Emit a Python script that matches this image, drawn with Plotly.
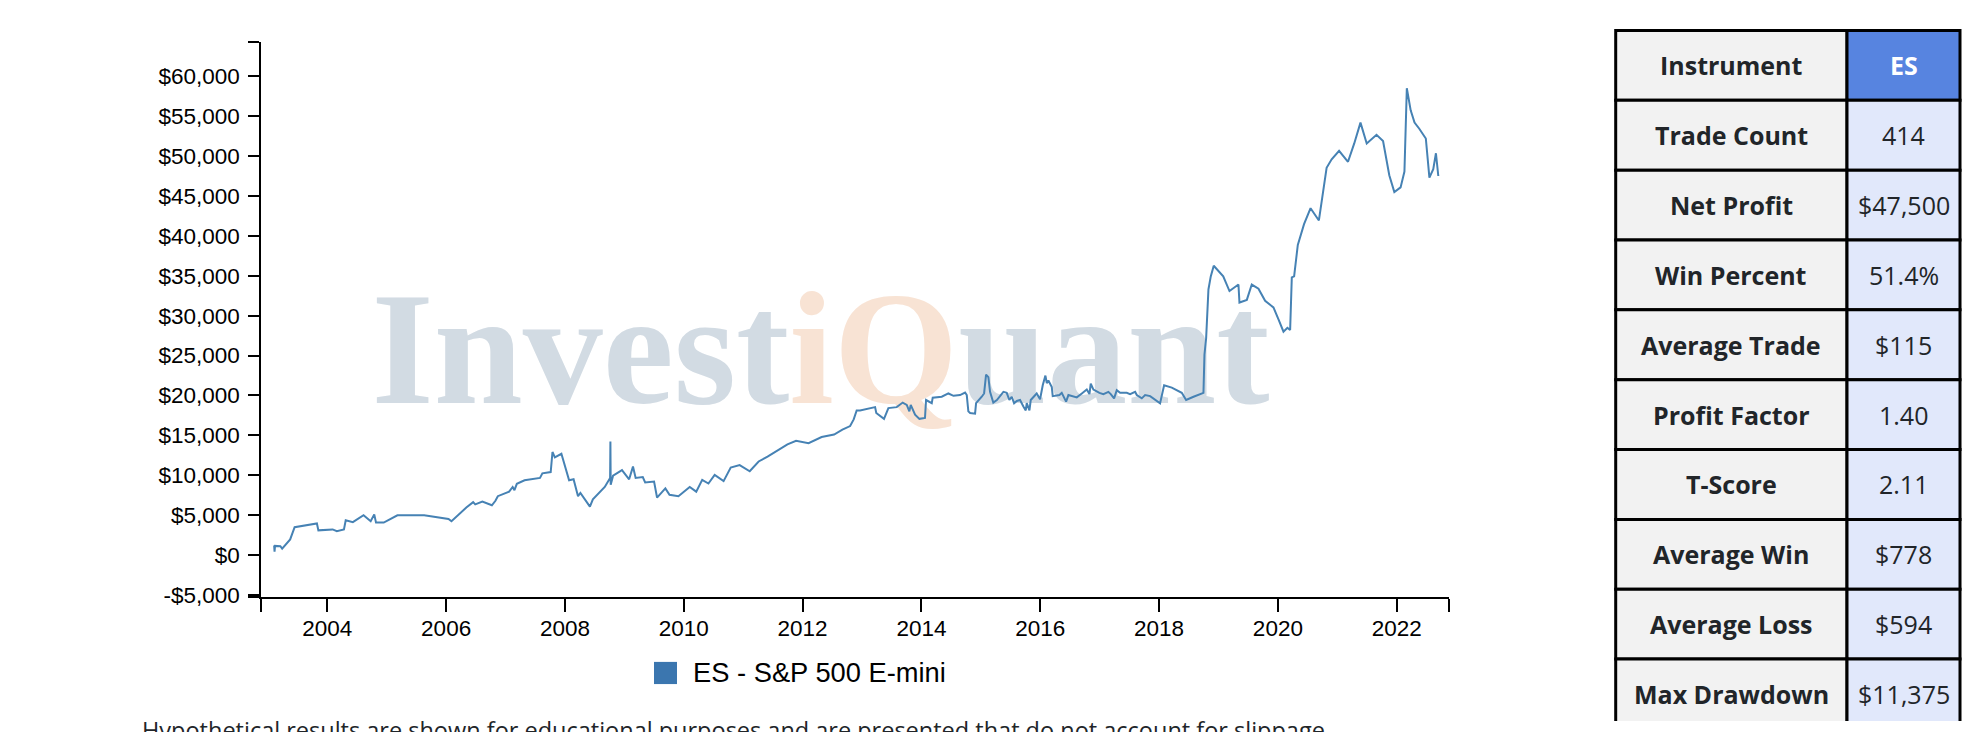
#!/usr/bin/env python3
"""
ES - S&P 500 E-mini equity curve with summary stats table
"""

import plotly.graph_objects as go

# ---- equity curve (x in decimal years) ----
years = [
    2003.105, 2003.112, 2003.12, 2003.21, 2003.24, 2003.34, 2003.375, 2003.45, 2003.825, 2003.85,
    2004.09, 2004.16, 2004.28, 2004.31, 2004.43, 2004.61, 2004.73, 2004.79, 2004.82, 2004.95,
    2005.18, 2005.63, 2006.04, 2006.09, 2006.23, 2006.34, 2006.455, 2006.49, 2006.61, 2006.77,
    2006.83, 2006.87, 2007.06, 2007.12, 2007.15, 2007.19, 2007.32, 2007.58, 2007.62, 2007.76,
    2007.79, 2007.83, 2007.94, 2008.07, 2008.145, 2008.22, 2008.26, 2008.42, 2008.47, 2008.67,
    2008.76, 2008.765, 2008.77, 2008.81, 2008.96, 2009.08, 2009.145, 2009.19, 2009.31, 2009.35,
    2009.50, 2009.55, 2009.69, 2009.76, 2009.91, 2010.10, 2010.21, 2010.31, 2010.415, 2010.52,
    2010.67, 2010.79, 2010.94, 2011.11, 2011.26, 2011.41, 2011.58, 2011.745, 2011.89, 2012.10,
    2012.32, 2012.53, 2012.67, 2012.80, 2012.86, 2012.91, 2012.967, 2013.22, 2013.24, 2013.37,
    2013.444, 2013.584, 2013.685, 2013.753, 2013.797, 2013.82, 2013.893, 2013.966, 2014.06, 2014.078,
    2014.174, 2014.19, 2014.342, 2014.454, 2014.54, 2014.65, 2014.735, 2014.763, 2014.79, 2014.82,
    2014.903, 2014.92, 2015.015, 2015.055, 2015.088, 2015.127, 2015.155, 2015.21, 2015.27, 2015.38,
    2015.436, 2015.48, 2015.52, 2015.56, 2015.605, 2015.66, 2015.716, 2015.756, 2015.773, 2015.818,
    2015.84, 2015.94, 2015.997, 2016.042, 2016.087, 2016.11, 2016.137, 2016.194, 2016.21, 2016.323,
    2016.362, 2016.40, 2016.435, 2016.474, 2016.615, 2016.70, 2016.783, 2016.828, 2016.85, 2016.895,
    2016.996, 2017.063, 2017.147, 2017.187, 2017.243, 2017.288, 2017.344, 2017.456, 2017.512, 2017.597,
    2017.625, 2017.709, 2017.765, 2017.85, 2018.017, 2018.085, 2018.214, 2018.382, 2018.455, 2018.58,
    2018.72, 2018.747, 2018.764, 2018.792, 2018.831, 2018.87, 2018.92, 2019.03, 2019.08, 2019.185,
    2019.336, 2019.353, 2019.477, 2019.56, 2019.673, 2019.785, 2019.925, 2020.01, 2020.094, 2020.16,
    2020.206, 2020.234, 2020.273, 2020.335, 2020.44, 2020.55, 2020.69, 2020.82, 2020.905, 2021.03,
    2021.18, 2021.285, 2021.39, 2021.495, 2021.66, 2021.77, 2021.875, 2021.96, 2022.065, 2022.13,
    2022.17, 2022.235, 2022.30, 2022.38, 2022.49, 2022.55, 2022.615, 2022.66, 2022.70,
]
equity = [
    1200, 420, 1150, 1110, 820, 1680, 1960, 3500, 3960, 3100,
    3220, 2990, 3220, 4360, 4130, 4990, 4250, 5100, 4070, 4070,
    4990, 4990, 4530, 4240, 5270, 5960, 6640, 6360, 6700, 6240,
    6810, 7380, 7950, 8530, 8130, 8930, 9380, 9670, 10240, 10410,
    12920, 12240, 12690, 9380, 9500, 7380, 7780, 6070, 6980, 8530,
    9670, 14230, 8810, 9950, 10640, 9500, 11090, 9670, 9780, 9100,
    9210, 7210, 8360, 7550, 7380, 8530, 7950, 9430, 8970, 10040,
    9270, 10960, 11270, 10500, 11730, 12340, 13110, 13870, 14330, 14030,
    14790, 15100, 15710, 16170, 17000, 18130, 18130, 18540, 17800, 17070,
    18420, 18540, 19110, 18820, 18010, 18820, 17600, 17070, 17190, 19430,
    19030, 19720, 19840, 20250, 19960, 20050, 20370, 20050, 18010, 17800,
    17720, 19030, 19840, 20250, 22610, 22290, 20450, 19110, 19430, 20450,
    20330, 19430, 19840, 19030, 19310, 19430, 18620, 18130, 19030, 18130,
    19430, 20250, 19520, 21270, 22490, 21550, 21880, 21060, 19920, 20050,
    20330, 19760, 19230, 20050, 19760, 20250, 20740, 20170, 21470, 20740,
    20330, 20170, 20450, 20170, 19640, 20660, 20330, 20330, 20170, 20450,
    20050, 19640, 20050, 19920, 19030, 21270, 20980, 20330, 19430, 19840,
    20330, 20330, 25140, 27170, 33280, 34920, 36250, 35330, 34920, 33080,
    33900, 31650, 31980, 33900, 33370, 31860, 31040, 29530, 27990, 28480,
    28200, 34800, 34920, 38860, 41470, 43460, 41930, 48520, 49590, 50660,
    49280, 51580, 54190, 51580, 52660, 51890, 47600, 45490, 46070, 48060,
    58500, 55730, 54190, 53420, 52200, 47290, 48360, 50350, 47500,
]

x_tick_years = list(range(2004, 2023, 2))
x_range = [2002.889, 2022.885]
y_tick_values = list(range(-5000, 60001, 5000))
y_range = [-5200, 64330]

series_name = "ES - S&P 500 E-mini"

# ---- stats table ----
stat_labels = ["Instrument", "Trade Count", "Net Profit", "Win Percent", "Average Trade",
               "Profit Factor", "T-Score", "Average Win", "Average Loss", "Max Drawdown"]
stat_values = ["ES", "414", "$47,500", "51.4%", "$115", "1.40", "2.11", "$778", "$594", "$11,375"]

disclaimer = ("Hypothetical results are shown for educational purposes and are presented "
              "that do not account for slippage")

W, H = 1966, 732
LINE_COLOR = "#4682b4"
TEXT_DARK = "#212529"


def money(v):
    return ("-$" if v < 0 else "$") + f"{abs(v):,}"


fig = go.Figure()

# watermark drawn as a text trace so the equity line sits on top of it
fig.add_trace(go.Scatter(
    x=[2012.30], y=[24100],
    mode="text",
    text=["Invest<span style='color:#f8e3d4'>iQ</span>uant"],
    textposition="middle center",
    textfont=dict(family="Liberation Serif", size=160, weight=700, color="#d2dbe3"),
    hoverinfo="skip", showlegend=False,
))

fig.add_trace(go.Scatter(
    x=years, y=equity,
    mode="lines",
    line=dict(color=LINE_COLOR, width=2),
    name=series_name,
    hoverinfo="skip", showlegend=False,
))

# invisible helper trace for the table subplot
fig.add_trace(go.Scatter(x=[], y=[], xaxis="x2", yaxis="y2", showlegend=False))

axis_font = dict(family="Liberation Sans", size=22.5, color="black")

fig.update_layout(
    width=W, height=H,
    margin=dict(l=0, r=0, t=0, b=0),
    paper_bgcolor="white",
    plot_bgcolor="white",
    showlegend=False,
    xaxis=dict(
        domain=[261.3 / W, 1449.3 / W],
        range=x_range,
        tickvals=[x_range[0]] + x_tick_years + [x_range[1]],
        ticktext=[""] + [str(y) for y in x_tick_years] + [""],
        ticks="outside", ticklen=13, tickwidth=2, tickcolor="black",
        showline=True, linewidth=2, linecolor="black",
        showgrid=False, zeroline=False,
        tickfont=axis_font,
        ticklabelstandoff=-3,
        fixedrange=True,
    ),
    yaxis=dict(
        domain=[1 - 605.7 / H, 1 - 42.3 / H],
        range=y_range,
        tickvals=[y_range[0]] + y_tick_values + [y_range[1]],
        ticktext=[""] + [money(v) for v in y_tick_values] + [""],
        ticks="outside", ticklen=11, tickwidth=2, tickcolor="black",
        showline=True, linewidth=2, linecolor="black",
        showgrid=False, zeroline=False,
        tickfont=axis_font,
        ticklabelstandoff=4,
        fixedrange=True,
    ),
)

# ---- table on its own hidden axes: one unit per row ----
row_px = 70.9
tbl_top, tbl_left, tbl_right = 31.0, 1615.7, 1960.0
pad = 3.0
col_split = (1847.0 - tbl_left) / (tbl_right - tbl_left)
tbl_w = tbl_right - tbl_left
rows_visible = (H - tbl_top) / row_px

fig.update_layout(
    xaxis2=dict(
        domain=[(tbl_left - pad) / W, (tbl_right + pad) / W],
        range=[-pad / tbl_w, 1 + pad / tbl_w],
        visible=False, fixedrange=True, anchor="y2",
    ),
    yaxis2=dict(
        domain=[0, 1 - (tbl_top - pad) / H],
        range=[rows_visible, -pad / row_px],
        visible=False, fixedrange=True, anchor="x2",
    ),
)

shapes = []
annotations = []
for i, (lab, val) in enumerate(zip(stat_labels, stat_values)):
    header = i == 0
    shapes.append(dict(type="rect", xref="x2", yref="y2", x0=0, x1=col_split, y0=i, y1=i + 1,
                       fillcolor="#f2f2f2", line=dict(color="black", width=3), layer="below"))
    shapes.append(dict(type="rect", xref="x2", yref="y2", x0=col_split, x1=1, y0=i, y1=i + 1,
                       fillcolor="#5784e0" if header else "#e1e8fb",
                       line=dict(color="black", width=3), layer="below"))
    annotations.append(dict(xref="x2", yref="y2", x=col_split / 2, y=i + 0.5, text=lab,
                            showarrow=False, xanchor="center", yanchor="middle",
                            font=dict(family="Open Sans", size=25, weight=700, color=TEXT_DARK)))
    annotations.append(dict(xref="x2", yref="y2", x=(col_split + 1) / 2, y=i + 0.5, text=val,
                            showarrow=False, xanchor="center", yanchor="middle",
                            font=dict(family="Open Sans", size=25,
                                      weight=700 if header else 400,
                                      color="white" if header else TEXT_DARK)))

# legend swatch + label
shapes.append(dict(type="rect", xref="paper", yref="paper",
                   x0=654 / W, x1=677 / W, y0=1 - 694.5 / H, y1=1 - 672 / H,
                   fillcolor="#3b76af", line=dict(width=0)))
annotations.append(dict(xref="paper", yref="paper", x=691 / W, y=1 - 683 / H,
                        text=series_name, showarrow=False, xanchor="left", yanchor="middle",
                        font=dict(family="Liberation Sans", size=27.3, color="black")))

# disclaimer, cut off by the bottom edge
annotations.append(dict(xref="paper", yref="paper", x=140 / W, y=1 - 723 / H,
                        text=disclaimer, showarrow=False, xanchor="left", yanchor="top",
                        font=dict(family="Open Sans", size=23.5, color=TEXT_DARK)))

fig.update_layout(shapes=shapes, annotations=annotations)

# drop the browser's default body margin so the figure fills the window exactly
fig.write_html("out.html", config={"displayModeBar": False},
               post_script="document.body.style.margin='0';")
